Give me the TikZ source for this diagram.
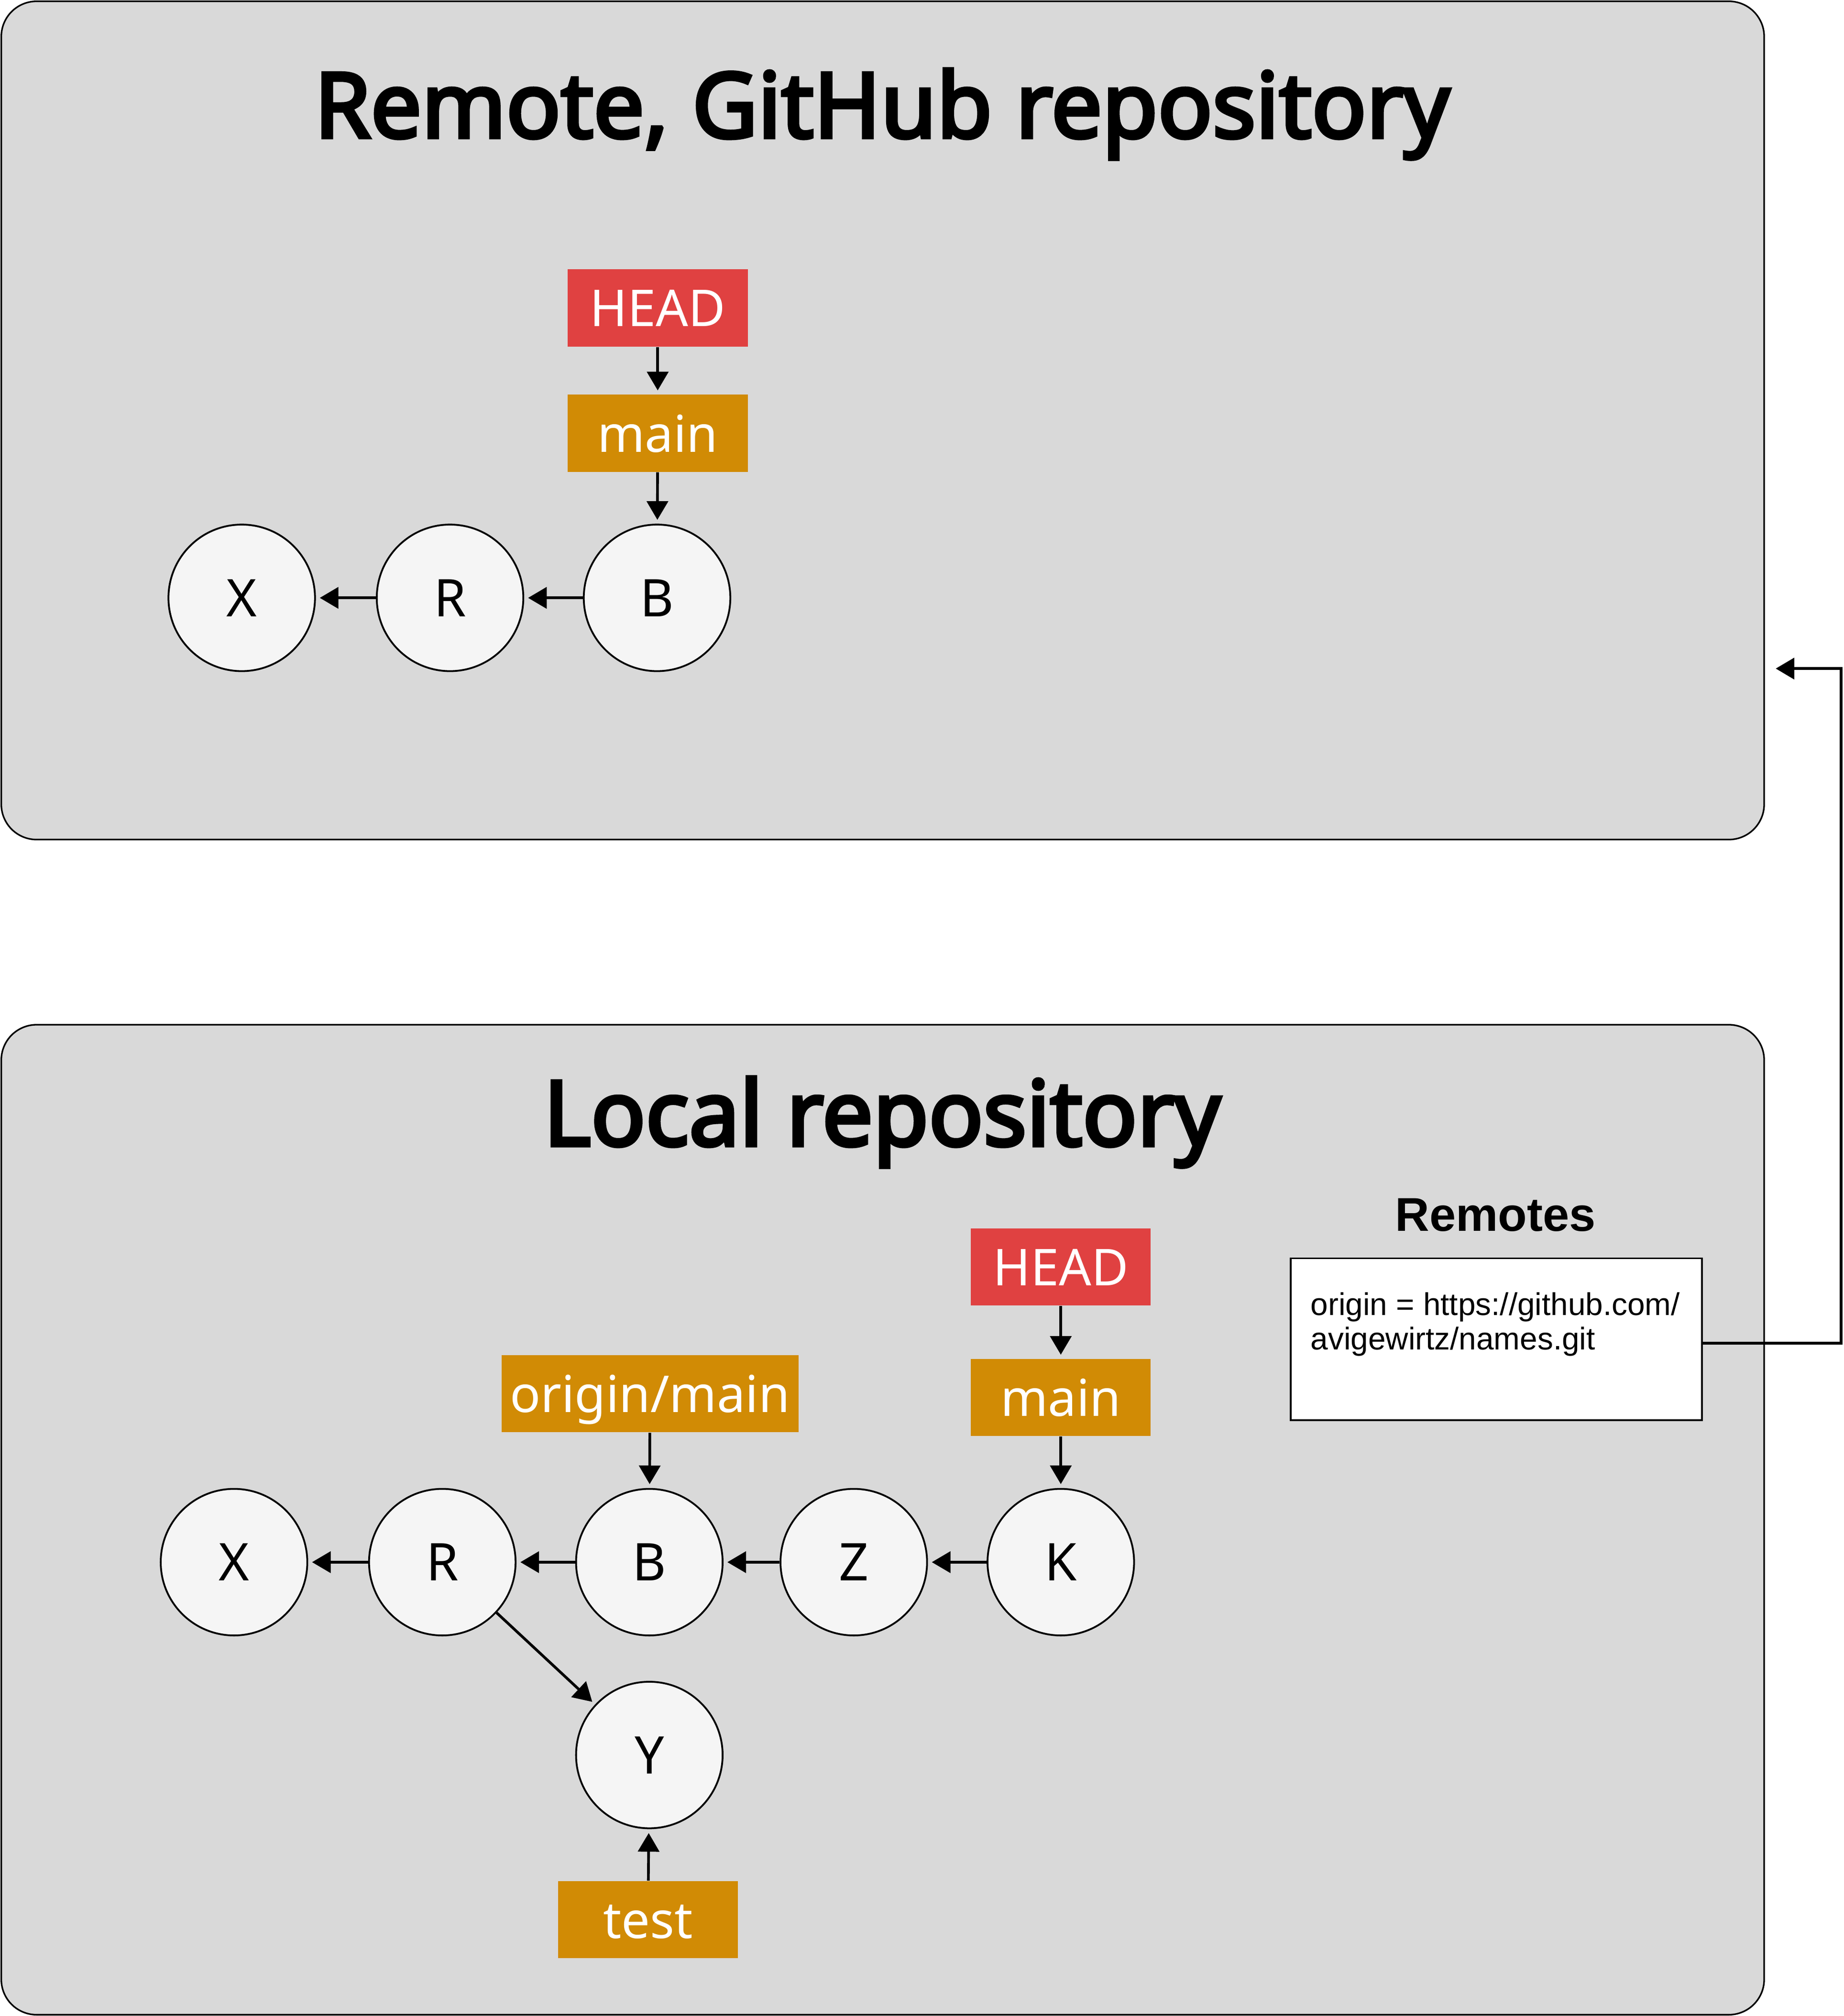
\documentclass[tikz,border=0pt]{standalone}
\usepackage{fontspec}
\setmainfont{Noto Sans}[AutoFakeBold=4]
\newfontfamily\helvfont{Liberation Sans}
\usetikzlibrary{arrows.meta,positioning}
\definecolor{panelgray}{HTML}{D9D9D9}
\definecolor{headred}{HTML}{E04141}
\definecolor{branchorange}{HTML}{D18B05}
\definecolor{commitfill}{HTML}{F5F5F5}
\tikzset{
  panel/.style={draw, fill=panelgray, rounded corners=0.55cm, line width=0.7pt},
  commit/.style={circle, draw, fill=commitfill, minimum size=2.28cm, inner sep=0pt,
    line width=0.8pt, text height=0.58cm, text depth=0pt, font=\fontsize{23}{27}\selectfont},
  ref/.style={minimum width=2.8cm, minimum height=1.2cm, inner sep=0pt, text=white,
    text height=0.58cm, text depth=0pt, font=\fontsize{22.5}{26}\selectfont},
  headref/.style={ref, fill=headred},
  branchref/.style={ref, fill=branchorange},
  ptr/.style={-{Triangle[length=0.29cm,width=0.33cm]}, line width=1.2pt, shorten >=0.06cm},
  title/.style={font=\bfseries\fontsize{40}{48}\selectfont, text height=1cm, text depth=0pt},
}
\begin{document}
\begin{tikzpicture}[x=0.02cm, y=-0.02cm]
  \useasboundingbox (0,0) rectangle (1434,1568);

  % remote repository
  \draw[panel] (1,1) rectangle (1372,653);
  \node[title] (rtitle) at (686,82) {Remote, GitHub repository};
  \node[headref] (rhead) at (511.5,239.5) {HEAD};
  \node[branchref] (rmain) at (511.5,337) {main};
  \node[commit] (rB) at (511,465) {B};
  \node[commit] (rR) at (350,465) {R};
  \node[commit] (rX) at (188,465) {X};
  \draw[ptr] (rhead) -- (rmain);
  \draw[ptr] (rmain) -- (rB);
  \draw[ptr] (rB) -- (rR);
  \draw[ptr] (rR) -- (rX);

  % local repository
  \draw[panel] (1,797) rectangle (1372,1567);
  \node[title] (ltitle) at (686,866) {Local repository};
  \node[font=\helvfont\bfseries\fontsize{21}{25}\selectfont] (remotes) at (1163,945) {Remotes};
  \node[draw, fill=white, line width=0.8pt, minimum width=6.4cm, minimum height=2.52cm,
    anchor=north west] (remotebox) at (1003,978) {};
  \node[font=\helvfont\fontsize{13.9}{15.2}\selectfont, align=left, inner sep=0pt,
    anchor=north west] (url) at (1019,1005) {origin = https://github.com/\\avigewirtz/names.git};

  \node[headref] (lhead) at (825,985.5) {HEAD};
  \node[branchref] (lmain) at (825,1087) {main};
  \node[branchref, minimum width=4.62cm] (lorigin) at (505.5,1084) {origin/main};
  \node[commit] (lX) at (182,1215) {X};
  \node[commit] (lR) at (344,1215) {R};
  \node[commit] (lB) at (505,1215) {B};
  \node[commit] (lZ) at (664,1215) {Z};
  \node[commit] (lK) at (825,1215) {K};
  \node[commit] (lY) at (505,1365) {Y};
  \node[branchref] (ltest) at (504,1493) {test};

  \draw[ptr] (lhead) -- (lmain);
  \draw[ptr] (lmain) -- (lK);
  \draw[ptr] (lorigin) -- (lB);
  \draw[ptr] (lK) -- (lZ);
  \draw[ptr] (lZ) -- (lB);
  \draw[ptr] (lB) -- (lR);
  \draw[ptr] (lR) -- (lX);
  \draw[ptr] (lR) -- (lY);
  \draw[ptr] (ltest) -- (lY);

  % link from the remotes list to the remote
  \coordinate (bend) at (1432,520);
  \coordinate (pushend) at (1381,520);
  \draw[ptr, shorten >=0pt, line width=1.3pt] ([yshift=-0.06cm]remotebox.east) -| (bend) -- (pushend);
\end{tikzpicture}
\end{document}
